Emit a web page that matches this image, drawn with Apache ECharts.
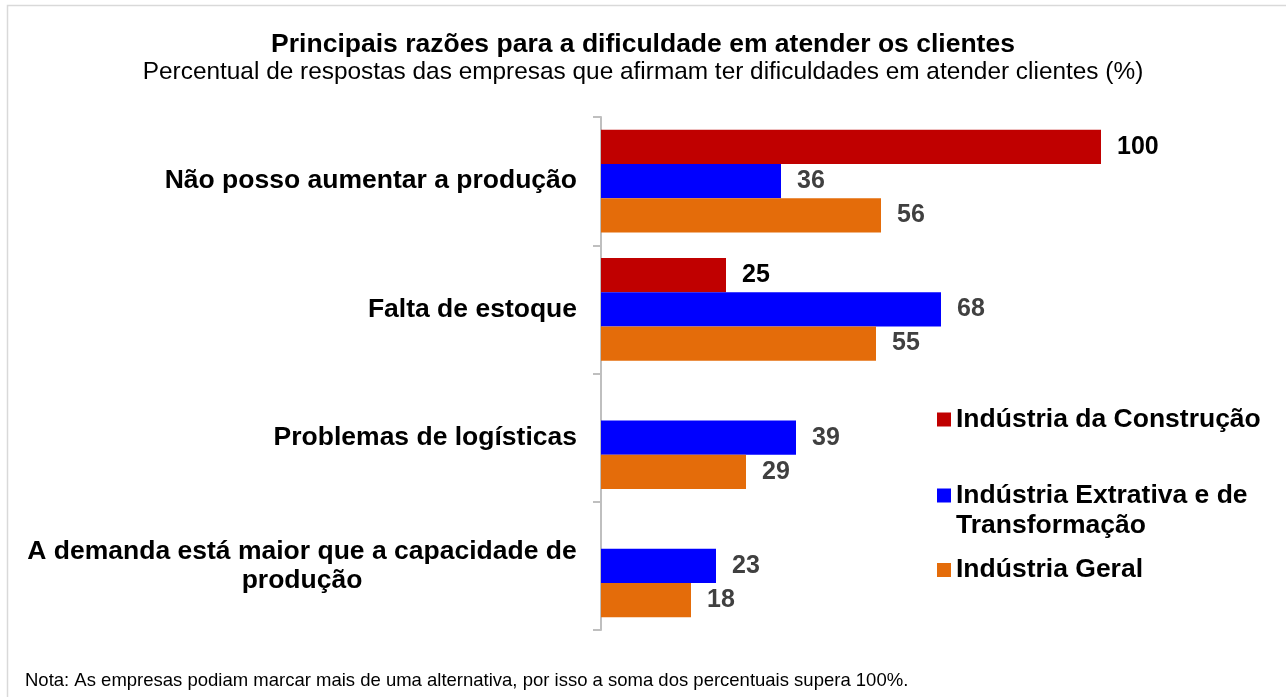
<!DOCTYPE html>
<html>
<head>
<meta charset="utf-8">
<script src="https://cdn.jsdelivr.net/npm/echarts@6/dist/echarts.min.js"></script>
<style>
  html, body { margin: 0; padding: 0; background: #fff; }
  #main { width: 1286px; height: 697px; }
</style>
</head>
<body>
<div id="main"></div>
<script>
// dados do gráfico
var categorias = [
  'Não posso aumentar a produção',
  'Falta de estoque',
  'Problemas de logísticas',
  'A demanda está maior que a capacidade de\nprodução'
];
var serieNomes = ['Indústria da Construção', 'Indústria Extrativa e de\nTransformação', 'Indústria Geral'];
var construcao = [100, 25, null, null];
var extrativa = [36, 68, 39, 23];
var geral = [56, 55, 29, 18];

var fonte = "'Liberation Sans', Arial, sans-serif";
var cores = ['#C00000', '#0000FF', '#E46C0A'];
var tamRotulo = 26.5;

// largura da primeira linha do rótulo longo, para centralizar a segunda
var ctx = document.createElement('canvas').getContext('2d');
ctx.font = 'bold ' + tamRotulo + 'px ' + fonte;
var larguraLinha = Math.ceil(ctx.measureText('A demanda está maior que a capacidade de').width);

var myChart = echarts.init(document.getElementById('main'));

function rotulo(cor) {
  return {
    show: true,
    position: 'right',
    distance: 16,
    fontFamily: fonte,
    fontSize: 25,
    fontWeight: 'bold',
    color: cor
  };
}

function legenda(nome, top, formatter) {
  var l = {
    data: [nome],
    orient: 'vertical',
    left: 937,
    top: top,
    padding: 0,
    icon: 'rect',
    itemWidth: 14,
    itemHeight: 14,
    selectedMode: false,
    textStyle: {
      fontFamily: fonte,
      fontSize: tamRotulo,
      fontWeight: 'bold',
      color: '#000',
      lineHeight: 30
    }
  };
  if (formatter) l.formatter = formatter;
  return l;
}

myChart.setOption({
  animation: false,
  title: {
    text: 'Principais razões para a dificuldade em atender os clientes',
    subtext: 'Percentual de respostas das empresas que afirmam ter dificuldades em atender clientes (%)',
    left: 'center',
    top: 26,
    itemGap: 2,
    textStyle: {
      fontFamily: fonte,
      fontSize: 26.5,
      fontWeight: 'bold',
      color: '#000'
    },
    subtextStyle: {
      fontFamily: fonte,
      fontSize: 24.4,
      color: '#000'
    }
  },
  legend: [
    legenda(serieNomes[0], 404.5),
    legenda(serieNomes[1], 450.5, function (n) { return ' \n' + n; }),
    legenda(serieNomes[2], 555)
  ],
  grid: {
    left: 601,
    top: 117,
    width: 500,
    height: 513,
    containLabel: false
  },
  xAxis: {
    type: 'value',
    min: 0,
    max: 100,
    show: false
  },
  yAxis: {
    type: 'category',
    inverse: true,
    data: categorias,
    axisLine: {
      lineStyle: { color: '#BFBFBF', width: 2 }
    },
    axisTick: {
      show: true,
      alignWithLabel: false,
      length: 8,
      lineStyle: { color: '#BFBFBF', width: 2 }
    },
    axisLabel: {
      margin: 24,
      fontFamily: fonte,
      fontSize: tamRotulo,
      fontWeight: 'bold',
      color: '#000',
      lineHeight: 29,
      formatter: function (v) {
        if (v.indexOf('\n') < 0) return v;
        var p = v.split('\n');
        return '{c|' + p[0] + '}\n{c|' + p[1] + '}';
      },
      rich: {
        c: {
          width: larguraLinha,
          align: 'center',
          fontFamily: fonte,
          fontSize: tamRotulo,
          fontWeight: 'bold',
          color: '#000',
          lineHeight: 29
        }
      }
    }
  },
  series: [
    {
      name: serieNomes[0],
      type: 'bar',
      data: construcao,
      barGap: 0,
      barCategoryGap: '20%',
      itemStyle: { color: cores[0] },
      label: rotulo('#000')
    },
    {
      name: serieNomes[1],
      type: 'bar',
      data: extrativa,
      barGap: 0,
      barCategoryGap: '20%',
      itemStyle: { color: cores[1] },
      label: rotulo('#404040')
    },
    {
      name: serieNomes[2],
      type: 'bar',
      data: geral,
      barGap: 0,
      barCategoryGap: '20%',
      itemStyle: { color: cores[2] },
      label: rotulo('#404040')
    }
  ],
  graphic: [
    {
      type: 'rect',
      shape: { x: 7.5, y: 5.5, width: 1290, height: 700 },
      style: { fill: 'none', stroke: '#D9D9D9', lineWidth: 1.5 },
      silent: true
    },
    {
      type: 'text',
      left: 25,
      top: 671,
      style: {
        text: 'Nota: As empresas podiam marcar mais de uma alternativa, por isso a soma dos percentuais supera 100%.',
        font: '18.5px ' + fonte,
        fill: '#000'
      }
    }
  ]
});
</script>
</body>
</html>
